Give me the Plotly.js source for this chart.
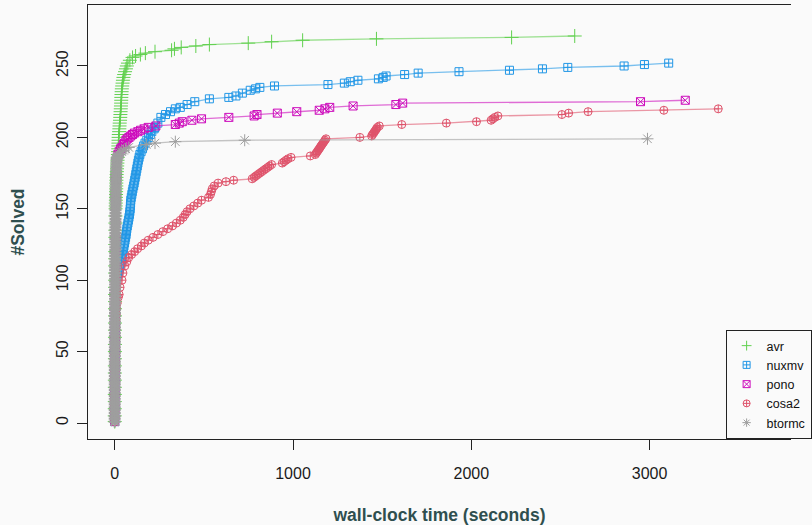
<!DOCTYPE html>
<html>
<head>
<meta charset="utf-8">
<script src="https://cdn.plot.ly/plotly-3.0.1.min.js"></script>
<style>html,body{margin:0;padding:0;background:#fafafa;}#chart{width:812px;height:525px;}</style>
</head>
<body>
<div id="chart"></div>
<script>
// ---- data (time in seconds, cumulative #solved) ----
const seriesNames = ["avr", "nuxmv", "pono", "cosa2", "btormc"];

const avrTime = [0.2,0.3,0.4,0.5,0.6,0.7,0.8,0.9,1.0,1.1,1.2,1.3,1.4,1.5,1.6,1.7,1.8,1.9,2.0,2.1,2.2,2.4,2.6,2.8,3.0,3.2,3.4,3.6,3.8,4.0,5,5.5,6,6.5,7,7.5,8,8.5,9,9,9.5,10,11,12,13,14,15,16,17,18,19,20,20.5,21,21.5,22,23,25,26,27,28,30,31,32,33,34,35,36,36.5,37,38,39,40,42,44,46,49,53,58,63,68,74,85,100,117,144,172,226,319,335,373,455,531,749,880,1054,1468,2226,2580];
const avrSolved = [1,5,10,15,20,25,30,35,40,45,50,55,60,65,70,75,80,85,90,95,100,105,110,115,120,125,130,135,140,145,150,152,154,156,158,160,162,164,166,168,170,172,174,176,178,180,182,184,186,188,190,192,194,196,198,200,202,204,206,208,210,212,214,216,218,220,222,224,226,228,230,232,234,236,238,240,242,244,246,248,250,252,254,256,257,258,259,260,261,262,263,264,265,266,267,268,269,270,271];

const nuxmvTime = [0.3,0.5,0.7,0.9,1.1,1.3,1.5,1.7,1.9,2.1,2.3,2.5,2.8,3.1,3.4,3.8,4.2,4.6,5,6,8,12,16,22,27,30,34,38,41,43,46,49,52,55,58,61,64,66,68,71,74,77,80,83,85,87,88,89,90,93,96,99,102,106,109,112,115,118,121,124,127,130,133,137,141,148,156,162,170,180,190,200,208,221,226,242,259,285,313,340,368,406,449,531,640,680,716,760,790,814,896,1196,1288,1321,1364,1479,1506,1522,1626,1702,1931,2214,2399,2541,2857,2971,3107];
const nuxmvSolved = [1,5,10,15,20,25,30,35,40,45,50,55,60,65,70,75,80,85,90,95,100,102,104,106,108,110,112,114,116,118,120,122,124,126,128,130,132,134,136,138,140,142,144,146,148,150,152,154,156,158,160,162,164,166,168,170,172,174,176,178,180,182,184,186,188,190,192,194,196,198,200,202,204,206,207,210,214,216,218,220,221,223,225,227,228,229,231,233,234,235,236,237,238,239,240,241,242,243,244,245,246,247,248,249,250,251,252];

const ponoTime = [0.2,0.4,0.6,0.8,1.0,1.2,1.4,1.6,1.8,2.0,2.2,2.4,2.6,2.8,3.0,3.2,3.4,3.6,3.8,4.0,4.3,4.6,5,5.5,6,7,8,10,14,18,25,33,41,48,55,63,70,80,90,100,110,130,145,165,188,231,340,362,379,433,487,640,782,798,912,1021,1147,1179,1206,1337,1577,1615,2949,3200];
const ponoSolved = [1,5,10,15,20,25,30,35,40,45,50,55,60,65,70,75,80,85,90,95,100,110,120,130,140,155,170,180,185,188,190,192,193,195,196,198,199,200,201,202,203,204,205,206,207,208,209,210,211,212,213,214,215,216,217,218,219,220,221,222,223,224,225,226];

const cosa2Time = [0.2,0.3,0.4,0.5,0.6,0.7,0.8,1.0,1.2,1.4,1.6,1.8,2.0,2.3,2.6,3.0,4,6,8,10,14,20,25,30,41,46,57,68,79,95,112,128,150,166,188,215,242,270,297,324,346,368,384,395,406,422,444,466,487,526,537,542,547,558,580,624,667,771,782,792,803,814,825,836,847,858,869,880,940,950,961,972,989,1097,1125,1130,1136,1141,1147,1152,1157,1163,1168,1174,1179,1185,1375,1441,1446,1452,1457,1463,1468,1473,1484,1610,1860,2029,2111,2121,2132,2149,2508,2546,2655,3080,3385];
const cosa2Solved = [1,4,8,12,16,20,24,28,32,36,40,44,48,52,56,60,66,72,76,80,84,88,90,95,100,105,110,113,116,118,120,122,124,126,128,130,132,134,136,138,140,142,144,146,148,150,152,154,156,158,160,162,164,166,168,169,170,171,172,173,174,175,176,177,178,179,180,181,182,183,184,185,186,187,188,189,190,191,192,193,194,195,196,197,198,199,200,201,202,203,204,205,206,207,208,209,210,211,212,213,214,215,216,217,218,219,220];

const btormcTime = [0.1,0.1,0.2,0.2,0.2,0.3,0.3,0.3,0.4,0.4,0.4,0.5,0.5,0.5,0.6,0.6,0.6,0.7,0.7,0.7,0.8,0.8,0.8,0.9,0.9,0.9,1.0,1.0,1.1,1.1,1.2,1.2,1.3,1.3,1.4,1.4,1.5,1.5,1.6,1.6,1.7,1.7,1.8,1.8,1.9,1.9,2.0,2.0,2.1,2.1,2.2,2.3,2.4,2.5,2.6,2.7,2.8,2.9,3.0,3.1,3.2,3.3,3.4,3.5,3.6,3.7,3.8,3.9,4.0,4.1,4.2,4.3,4.4,4.5,4.6,4.8,5.0,5.2,5.4,5.6,5.8,6.0,6.3,6.6,6.9,7.2,7.5,8,8.5,9,9.5,10,11,14,20,25,30,40,50,62,79,177,226,340,729,2988];
const btormcSolved = [1,3,5,7,9,11,13,15,17,19,21,23,25,27,29,31,33,35,37,39,41,43,45,47,49,51,53,55,57,59,61,63,65,67,69,71,73,75,77,79,81,83,85,87,89,91,93,95,97,99,101,103,105,107,109,111,113,115,117,119,121,123,125,127,129,131,133,135,137,139,141,143,145,147,149,151,153,155,157,159,161,163,165,167,169,171,173,175,177,179,181,183,185,186,187,188,189,190,191,192,193,195,196,197,198,199];

const xTickVals = [0, 1000, 2000, 3000];
const yTickVals = [0, 50, 100, 150, 200, 250];

// ---- styles ----
const colors = ["#61D04F", "#2297E6", "#CD0BBC", "#DF536B", "#9E9E9E"];
const lineColors = ["rgba(97,208,79,0.6)", "rgba(34,151,230,0.6)", "rgba(205,11,188,0.6)", "rgba(223,83,107,0.6)", "rgba(158,158,158,0.6)"];
const symbols = ["cross-thin-open", "square-cross-open", "square-x-open", "circle-cross-open", "asterisk-open"];
const sizes = [10, 8, 8, 8, 10];

const xs = [avrTime, nuxmvTime, ponoTime, cosa2Time, btormcTime];
const ys = [avrSolved, nuxmvSolved, ponoSolved, cosa2Solved, btormcSolved];

const traces = [];
for (let i = 0; i < 5; i++) {
  // thicker outlines where markers pile up at the dense start, so the stack reads as solid
  const lw = i === 4 ? ys[i].map(v => (v <= 186 ? 2.2 : 1)) : 1;
  traces.push({
    type: "scatter", mode: "lines+markers", name: seriesNames[i], showlegend: false,
    x: xs[i], y: ys[i],
    line: {color: lineColors[i], width: 1.3},
    marker: {symbol: symbols[i], size: sizes[i], color: colors[i], line: {color: colors[i], width: lw}}
  });
}
for (let i = 0; i < 5; i++) {
  traces.push({
    type: "scatter", mode: "markers", name: seriesNames[i], showlegend: true,
    x: [null], y: [null],
    marker: {symbol: symbols[i], size: 7, color: colors[i], line: {color: colors[i], width: 1}}
  });
}

const font = "Liberation Sans, Arial, Helvetica, sans-serif";
const layout = {
  width: 812, height: 525,
  paper_bgcolor: "#fafafa", plot_bgcolor: "#fafafa",
  margin: {l: 88, r: 0, t: 5, b: 86},
  font: {family: font, size: 16, color: "#1a1a1a"},
  showlegend: true,
  xaxis: {
    range: [-149.8, 3793], tickvals: xTickVals, ticks: "outside", ticklen: 10, tickcolor: "#222",
    showline: true, linecolor: "#222", linewidth: 1, mirror: true, showgrid: false, zeroline: false,
    ticklabelstandoff: 10,
    title: {text: "wall-clock time (seconds)", font: {family: font, size: 17.5, color: "#2F4F4F", weight: "bold"}, standoff: 30}
  },
  yaxis: {
    range: [-11.2, 292.7], tickvals: yTickVals, ticks: "outside", ticklen: 10, tickcolor: "#222", tickangle: -90,
    showline: true, linecolor: "#222", linewidth: 1, mirror: false, showgrid: false, zeroline: false,
    ticklabelstandoff: 3,
    title: {text: "#Solved", font: {family: font, size: 17.5, color: "#2F4F4F", weight: "bold"}, standoff: 24}
  },
  legend: {
    x: 0.907, xanchor: "left", y: 0, yanchor: "bottom",
    bgcolor: "#fafafa", bordercolor: "#222", borderwidth: 1,
    font: {family: font, size: 12.5, color: "#111"}, itemwidth: 30, tracegroupgap: 0
  }
};

Plotly.newPlot("chart", traces, layout, {displayModeBar: false, staticPlot: true});
</script>
</body>
</html>
